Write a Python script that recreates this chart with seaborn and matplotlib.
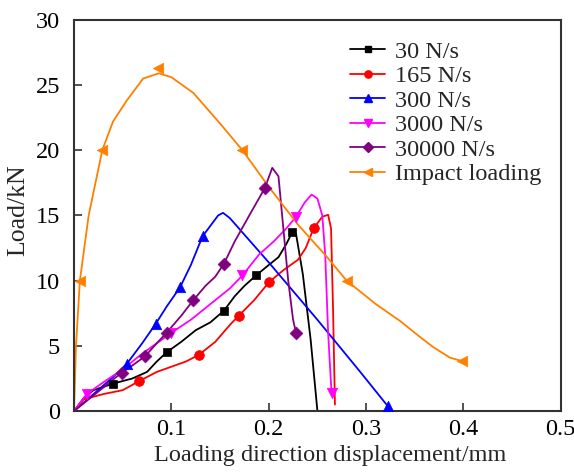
import numpy as np
import seaborn as sns
import matplotlib.pyplot as plt
from matplotlib.lines import Line2D

# curve points (displacement mm, load kN)
x_30 = [0, 0.01, 0.02, 0.04, 0.06, 0.075, 0.085, 0.095, 0.11, 0.125, 0.14, 0.154, 0.165, 0.175, 0.187, 0.2, 0.21, 0.218, 0.224, 0.228, 0.235, 0.243, 0.25]
y_30 = [0, 1.0, 1.6, 2.1, 2.5, 3.0, 3.8, 4.5, 5.3, 6.2, 6.8, 7.7, 8.8, 9.6, 10.4, 11.2, 11.8, 12.8, 13.7, 13.6, 10.5, 5.5, 0]
mx_30 = [0.040, 0.095, 0.154, 0.187, 0.224]
my_30 = [2.1, 4.5, 7.7, 10.4, 13.7]

x_165 = [0, 0.01, 0.03, 0.05, 0.067, 0.085, 0.1, 0.115, 0.128, 0.145, 0.16, 0.169, 0.185, 0.2005, 0.215, 0.23, 0.238, 0.246, 0.255, 0.261, 0.264, 0.266, 0.268]
y_165 = [0, 0.9, 1.3, 1.6, 2.3, 3.0, 3.4, 3.8, 4.3, 5.3, 6.6, 7.3, 8.5, 9.9, 10.8, 11.6, 12.5, 14.0, 14.9, 15.05, 14.0, 8.0, 0.5]
mx_165 = [0.067, 0.128, 0.169, 0.2005, 0.246]
my_165 = [2.3, 4.3, 7.3, 9.9, 14.0]

x_300 = [0, 0.02, 0.04, 0.054, 0.07, 0.084, 0.095, 0.109, 0.12, 0.132, 0.14, 0.148, 0.153, 0.16, 0.2, 0.25, 0.294, 0.322]
y_300 = [0, 1.3, 2.6, 3.6, 5.2, 6.7, 8.0, 9.5, 11.2, 13.4, 14.2, 15.0, 15.2, 14.8, 11.4, 7.0, 3.0, 0.4]
mx_300 = [0.054, 0.084, 0.109, 0.132, 0.322]
my_300 = [3.6, 6.7, 9.5, 13.4, 0.4]

x_3000 = [0, 0.013, 0.03, 0.05, 0.07, 0.085, 0.1, 0.12, 0.14, 0.16, 0.173, 0.19, 0.205, 0.218, 0.228, 0.237, 0.244, 0.25, 0.255, 0.258, 0.261, 0.2645]
y_3000 = [0, 1.3, 2.2, 3.2, 4.4, 5.2, 6.0, 7.0, 8.2, 9.4, 10.4, 12.0, 13.0, 14.0, 14.9, 16.0, 16.6, 16.3, 15.0, 12.0, 6.0, 1.4]
mx_3000 = [0.013, 0.1, 0.173, 0.228, 0.2645]
my_3000 = [1.3, 6.0, 10.4, 14.9, 1.4]

x_30000 = [0, 0.02, 0.035, 0.049, 0.06, 0.073, 0.085, 0.095, 0.11, 0.1225, 0.135, 0.145, 0.154, 0.165, 0.18, 0.196, 0.2036, 0.21, 0.215, 0.22, 0.225, 0.228]
y_30000 = [0, 1.2, 2.1, 2.95, 3.5, 4.2, 5.2, 6.0, 7.3, 8.5, 9.6, 10.3, 11.3, 13.0, 15.0, 17.1, 18.65, 18.0, 14.0, 10.0, 7.0, 6.0]
mx_30000 = [0.049, 0.073, 0.095, 0.1225, 0.154, 0.196, 0.228]
my_30000 = [2.95, 4.2, 6.0, 8.5, 11.3, 17.1, 6.0]

x_imp = [0, 0.002, 0.006, 0.015, 0.029, 0.04, 0.054, 0.071, 0.087, 0.1, 0.1225, 0.15, 0.173, 0.2, 0.23, 0.26, 0.28, 0.31, 0.335, 0.355, 0.369, 0.386, 0.4]
y_imp = [0, 5.0, 10.0, 15.0, 20.0, 22.2, 23.8, 25.5, 25.9, 25.6, 24.4, 22.05, 20.0, 17.2, 14.3, 11.8, 10.0, 8.2, 6.9, 5.7, 4.9, 4.1, 3.8]
mx_imp = [0.006, 0.029, 0.086, 0.173, 0.28, 0.399]
my_imp = [10.0, 20.0, 26.3, 20.0, 10.0, 3.8]

labels = ['30 N/s', '165 N/s', '300 N/s', '3000 N/s', '30000 N/s', 'Impact loading']
colors = ['black', '#FF0000', '#0000FF', '#FF00FF', '#800080', '#FF8000']
markers = ['s', 'o', '^', 'v', 'D', '<']
msizes = [6, 7, 7.5, 7.5, 6.5, 7.5]

series = [(x_30, y_30, mx_30, my_30), (x_165, y_165, mx_165, my_165),
          (x_300, y_300, mx_300, my_300), (x_3000, y_3000, mx_3000, my_3000),
          (x_30000, y_30000, mx_30000, my_30000), (x_imp, y_imp, mx_imp, my_imp)]

sns.set_style('ticks')
plt.rcParams['font.family'] = ['Liberation Serif', 'DejaVu Serif']

fig = plt.figure(figsize=(5.74, 4.73), dpi=100)
ax = fig.add_axes([0.129, 0.131, 0.848, 0.827])

handles = []
for (x, y, mx, my), lab, c, m, ms in zip(series, labels, colors, markers, msizes):
    sns.lineplot(x=x, y=y, sort=False, color=c, linewidth=1.3, ax=ax, estimator=None)
    sns.scatterplot(x=mx, y=my, color=c, marker=m, s=ms ** 2, edgecolor=c, linewidth=0.5, ax=ax, zorder=3)
    handles.append(Line2D([], [], color=c, marker=m, markersize=ms * 0.75, linewidth=1.3))

ax.set_xlim(0, 0.5)
ax.set_ylim(0, 30)
ax.set_xticks([0.1, 0.2, 0.3, 0.4, 0.5])
ax.set_xticklabels(['0.1', '0.2', '0.3', '0.4', '0.5'])
ax.set_yticks([0, 5, 10, 15, 20, 25, 30])
ax.tick_params(direction='in', length=6, width=1.2, labelsize=17.5, colors='#333333', labelcolor='black', pad=6)
ax.tick_params(axis='y', pad=10)
for s in ax.spines.values():
    s.set_linewidth(1.5)
    s.set_color('#333333')

ax.set_xlabel('Loading direction displacement/mm', fontsize=17.5)
ax.xaxis.set_label_coords(0.527, -0.087)
ax.set_ylabel('Load/kN', fontsize=18.5)
ax.yaxis.set_label_coords(-0.092, 0.514)

ax.legend(handles, labels, loc='upper right', bbox_to_anchor=(0.995, 0.99), frameon=False,
          fontsize=17.5, handlelength=1.45, handletextpad=0.4, labelspacing=0.1, borderaxespad=0.3)

fig.savefig('out.png', dpi=100)
